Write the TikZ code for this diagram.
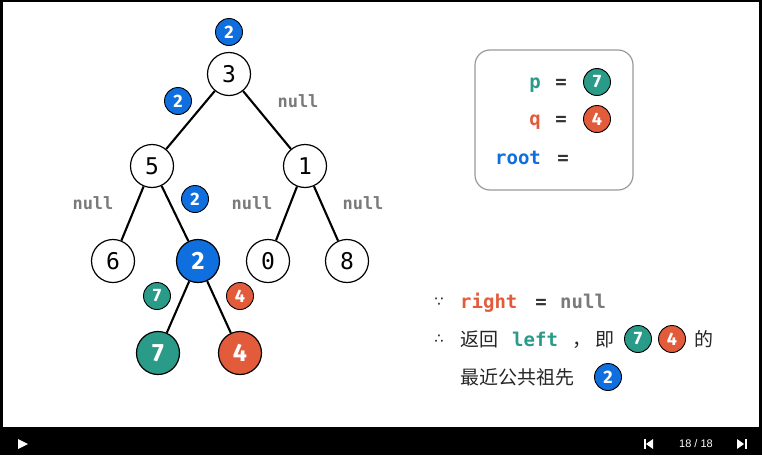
\documentclass[tikz,border=0pt]{standalone}
\usepackage{fontspec}
\setmainfont{Liberation Sans}
\newfontfamily\monof{DejaVu Sans Mono}
\newfontfamily\badgef{Fira Sans}
\newfontfamily\cjk{Noto Sans CJK SC}
\newfontfamily\symf{DejaVu Sans}
\definecolor{lcblue}{HTML}{0F6FDE}
\definecolor{lcteal}{HTML}{2A9B88}
\definecolor{lcorange}{HTML}{E25C3B}
\definecolor{nullgray}{HTML}{7A7A7A}
\definecolor{eqgray}{HTML}{333333}
\definecolor{boxgray}{HTML}{9A9A9A}
\begin{document}
\begin{tikzpicture}[x=1pt,y=-1pt,
  tnode/.style={circle,draw=black,line width=1.2pt,fill=white,minimum size=43pt,inner sep=0pt,font=\monof\fontsize{23}{23}\selectfont},
  bignode/.style={tnode,text=white,font=\badgef\bfseries\fontsize{25}{25}\selectfont},
  badge/.style={circle,draw=black,line width=0.9pt,minimum size=27pt,inner sep=0pt,text=white,font=\badgef\bfseries\fontsize{18}{18}\selectfont},
  treeedge/.style={line width=2.1pt},
  nulllbl/.style={text=nullgray,font=\monof\bfseries\fontsize{17}{17}\selectfont,inner sep=0pt},
  code/.style={font=\monof\bfseries\fontsize{19}{19}\selectfont,inner sep=0pt},
  cjktxt/.style={font=\cjk\fontsize{19}{19}\selectfont,inner sep=0pt,text=black!85},
  sym/.style={font=\symf\fontsize{14}{14}\selectfont,inner sep=0pt},
  ctrl/.style={fill=white}
]
\useasboundingbox (0,0) rectangle (762,455);
% frame
\fill[white] (0,0) rectangle (762,455);
\fill[black] (0,0) rectangle (762,2);
\fill[black] (0,0) rectangle (3,455);
\fill[black] (759,0) rectangle (762,455);
\fill[black] (0,427) rectangle (762,455);

% tree nodes
\node[tnode] (n3) at (229,74) {3};
\node[tnode] (n5) at (152,166) {5};
\node[tnode] (n1) at (305,166) {1};
\node[tnode] (n6) at (113,261) {6};
\node[bignode,fill=lcblue] (n2) at (198,261) {2};
\node[tnode] (n0) at (268,261) {0};
\node[tnode] (n8) at (347,261) {8};
\node[bignode,fill=lcteal] (n7) at (158,353) {7};
\node[bignode,fill=lcorange] (n4) at (240,353) {4};

% edges
\draw[treeedge] (n3) -- (n5);
\draw[treeedge] (n3) -- (n1);
\draw[treeedge] (n5) -- (n6);
\draw[treeedge] (n5) -- (n2);
\draw[treeedge] (n1) -- (n0);
\draw[treeedge] (n1) -- (n8);
\draw[treeedge] (n2) -- (n7);
\draw[treeedge] (n2) -- (n4);

% badges on tree
\node[badge,fill=lcblue] (b3) at (229,32) {2};
\node[badge,fill=lcblue] (b35) at (178,101) {2};
\node[badge,fill=lcblue] (b52) at (195,199) {2};
\node[badge,fill=lcteal] (b27) at (157,296) {7};
\node[badge,fill=lcorange] (b24) at (240,296) {4};

% null labels
\node[nulllbl] (l31) at (298,101) {null};
\node[nulllbl] (l56) at (93,203) {null};
\node[nulllbl] (l10) at (252,203) {null};
\node[nulllbl] (l18) at (363,203) {null};

% box
\draw[boxgray,line width=1.2pt,rounded corners=15pt] (475,50) rectangle (633,190);
\node[code,text=lcteal,anchor=base] (pp) at (535,88) {p};
\node[code,text=eqgray,anchor=base] (pe) at (561,88) {=};
\node[badge,fill=lcteal] (pb) at (597,82) {7};
\node[code,text=lcorange,anchor=base] (qq) at (535,125) {q};
\node[code,text=eqgray,anchor=base] (qe) at (561,125) {=};
\node[badge,fill=lcorange] (qb) at (597,119) {4};
\node[code,text=lcblue,anchor=base] (rr) at (518,164) {root};
\node[code,text=eqgray,anchor=base] (re) at (563,164) {=};

% bottom text
\node[sym] (because) at (439,302) {∵};
\node[code,text=lcorange,anchor=base west] (rt) at (460,308) {right};
\node[code,text=eqgray,anchor=base] (rte) at (541,308) {=};
\node[code,text=nullgray,anchor=base west] (rtn) at (560,308) {null};

\node[sym] (therefore) at (439,339) {∴};
\node[cjktxt,anchor=base west] (ret) at (460,346) {返回};
\node[code,text=lcteal,anchor=base west] (lf) at (512,346) {left};
\node[cjktxt,anchor=base] (comma) at (582,346) {，};
\node[cjktxt,anchor=base west] (ji) at (595,346) {即};
\node[badge,fill=lcteal] (s7) at (638,339) {7};
\node[badge,fill=lcorange] (s4) at (672,339) {4};
\node[cjktxt,anchor=base west] (de) at (694,346) {的};
\node[cjktxt,anchor=base west] (lca) at (460,384) {最近公共祖先};
\node[badge,fill=lcblue] (s2) at (608,377) {2};

% control bar
\fill[ctrl] (18,439) -- (28,444) -- (18,449) -- cycle;
\fill[ctrl] (643.5,439) rectangle (645.5,449);
\fill[ctrl] (653,439) -- (646,444) -- (653,449) -- cycle;
\node[text=white,font=\fontsize{11}{11}\selectfont,inner sep=0pt] (pg) at (696,444) {18 / 18};
\fill[ctrl] (737,439) -- (744,444) -- (737,449) -- cycle;
\fill[ctrl] (744.5,439) rectangle (746.5,449);
\end{tikzpicture}
\end{document}
